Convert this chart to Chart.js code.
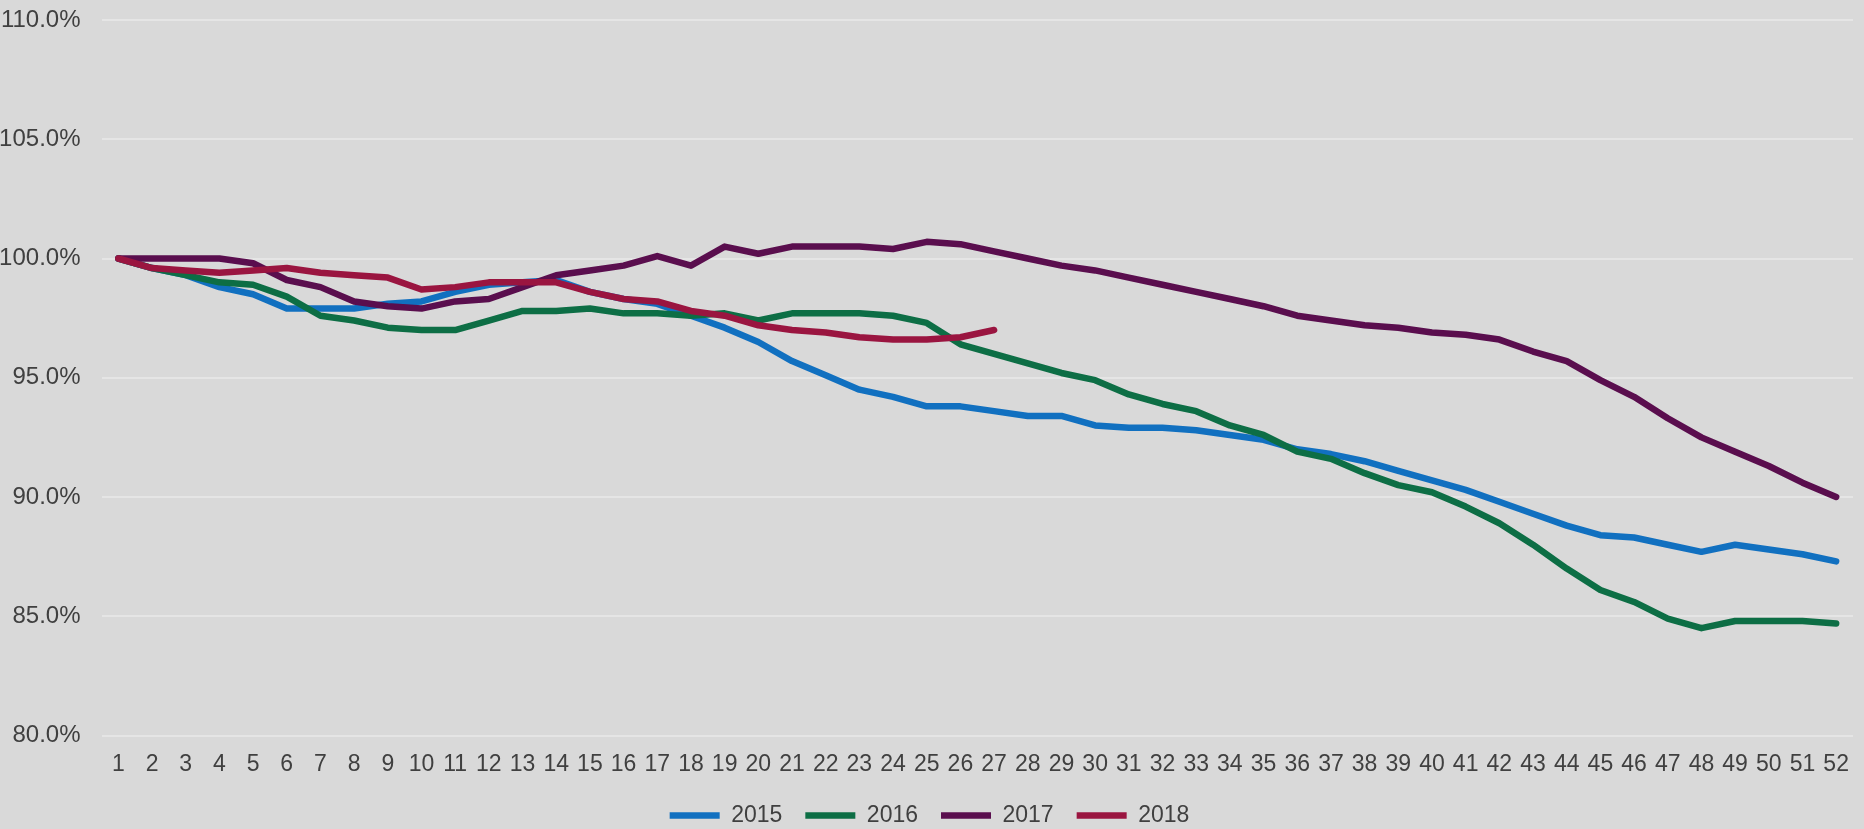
<!DOCTYPE html>
<html>
<head>
<meta charset="utf-8">
<title>Weekly index 2015-2018</title>
<script src="https://cdn.jsdelivr.net/npm/chart.js@4.4.1/dist/chart.umd.min.js"></script>
<style>
  html, body { margin: 0; padding: 0; background: #d9d9d9; }
  #wrap { width: 1864px; height: 829px; position: relative; }
</style>
</head>
<body>
<div id="wrap"><canvas id="chart"></canvas></div>
<script>
// Week numbers on the category axis
const weeks = [
  "1", "2", "3", "4", "5", "6", "7", "8", "9", "10", "11", "12", "13",
  "14", "15", "16", "17", "18", "19", "20", "21", "22", "23", "24", "25", "26",
  "27", "28", "29", "30", "31", "32", "33", "34", "35", "36", "37", "38", "39",
  "40", "41", "42", "43", "44", "45", "46", "47", "48", "49", "50", "51", "52"
];

// Index per week, in percent of week 1
const values2015 = [
  100, 99.6, 99.3, 98.8, 98.5, 97.9, 97.9, 97.9, 98.1, 98.2, 98.6, 98.9, 99.0,
  99.1, 98.6, 98.3, 98.1, 97.6, 97.1, 96.5, 95.7, 95.1, 94.5, 94.2, 93.8, 93.8,
  93.6, 93.4, 93.4, 93.0, 92.9, 92.9, 92.8, 92.6, 92.4, 92.0, 91.8, 91.5, 91.1,
  90.7, 90.3, 89.8, 89.3, 88.8, 88.4, 88.3, 88.0, 87.7, 88.0, 87.8, 87.6, 87.3
];
const values2016 = [
  100, 99.6, 99.3, 99.0, 98.9, 98.4, 97.6, 97.4, 97.1, 97.0, 97.0, 97.4, 97.8,
  97.8, 97.9, 97.7, 97.7, 97.6, 97.7, 97.4, 97.7, 97.7, 97.7, 97.6, 97.3, 96.4,
  96.0, 95.6, 95.2, 94.9, 94.3, 93.9, 93.6, 93.0, 92.6, 91.9, 91.6, 91.0, 90.5,
  90.2, 89.6, 88.9, 88.0, 87.0, 86.1, 85.6, 84.9, 84.5, 84.8, 84.8, 84.8, 84.7
];
const values2017 = [
  100, 100, 100, 100, 99.8, 99.1, 98.8, 98.2, 98.0, 97.9, 98.2, 98.3, 98.8,
  99.3, 99.5, 99.7, 100.1, 99.7, 100.5, 100.2, 100.5, 100.5, 100.5, 100.4, 100.7, 100.6,
  100.3, 100.0, 99.7, 99.5, 99.2, 98.9, 98.6, 98.3, 98.0, 97.6, 97.4, 97.2, 97.1,
  96.9, 96.8, 96.6, 96.1, 95.7, 94.9, 94.2, 93.3, 92.5, 91.9, 91.3, 90.6, 90.0
];
const values2018 = [
  100, 99.6, 99.5, 99.4, 99.5, 99.6, 99.4, 99.3, 99.2, 98.7, 98.8, 99.0, 99.0,
  99.0, 98.6, 98.3, 98.2, 97.8, 97.6, 97.2, 97.0, 96.9, 96.7, 96.6, 96.6, 96.7,
  97.0
];

const seriesNames = ["2015", "2016", "2017", "2018"];
const yTicks = [80, 85, 90, 95, 100, 105, 110];

const colors = ["#1170c0", "#0d6e45", "#5a0e4e", "#9a1540"];
const textColor = "#404040";
const fontFamily = "'Liberation Sans', Arial, sans-serif";
const font = { family: fontFamily, size: 23 };

const allValues = [values2015, values2016, values2017, values2018];

// Later years are drawn on top, like in the spreadsheet
const datasets = seriesNames.map((name, i) => ({
  label: name,
  data: allValues[i],
  borderColor: colors[i],
  backgroundColor: colors[i],
  borderWidth: 6.5,
  borderCapStyle: "round",
  borderJoinStyle: "round",
  pointRadius: 0,
  pointHoverRadius: 0,
  tension: 0,
  fill: false,
  order: seriesNames.length - i
}));

const config = {
  type: "line",
  data: { labels: weeks, datasets },
  options: {
    responsive: true,
    maintainAspectRatio: false,
    animation: false,
    layout: {
      padding: { top: 20, right: 5, left: 0, bottom: -8 }
    },
    plugins: {
      tooltip: { enabled: false },
      title: { display: false },
      legend: {
        position: "bottom",
        labels: {
          usePointStyle: true,
          pointStyle: "line",
          pointStyleWidth: 50,
          padding: 23,
          color: textColor,
          font,
          sort: (a, b) => a.datasetIndex - b.datasetIndex
        }
      }
    },
    scales: {
      x: {
        offset: true,
        grid: { display: false, drawTicks: false },
        border: { display: false },
        ticks: {
          color: textColor,
          font,
          padding: 15,
          autoSkip: false,
          maxRotation: 0
        },
        afterFit: (axis) => { axis.height = 45.5; }
      },
      y: {
        min: yTicks[0],
        max: yTicks[yTicks.length - 1],
        grid: { color: "#e5e5e5", lineWidth: 2, drawTicks: false },
        border: { display: false },
        ticks: {
          stepSize: 5,
          color: textColor,
          font: { family: fontFamily, size: 24 },
          padding: 21,
          callback: (value) => value.toFixed(1) + "%"
        },
        // fixed gutter for the percent labels; the top edge comes from layout padding
        afterFit: (axis) => {
          axis.width = 101.5;
          axis.paddingTop = 0;
          axis.paddingBottom = 0;
        }
      }
    }
  }
};

new Chart(document.getElementById("chart"), config);
</script>
</body>
</html>
